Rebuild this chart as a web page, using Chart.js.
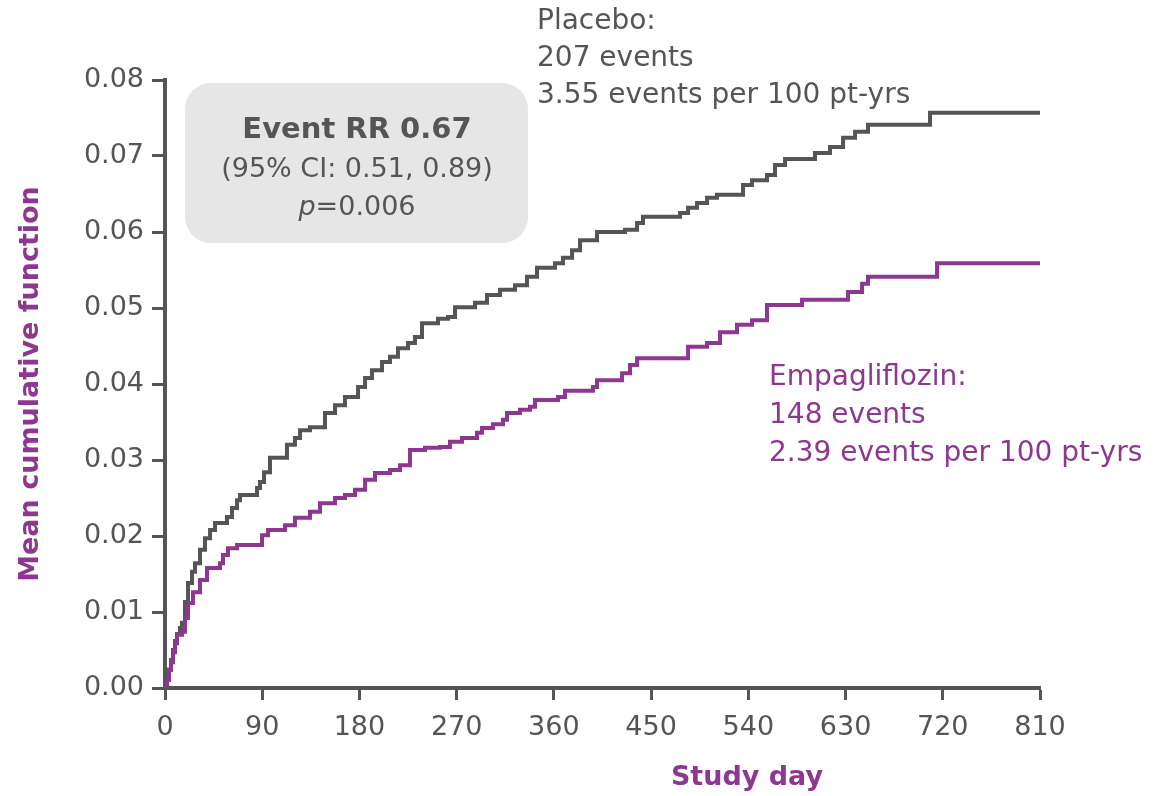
<!DOCTYPE html>
<html>
<head>
<meta charset="utf-8">
<title>Mean cumulative function</title>
<script src="https://cdn.jsdelivr.net/npm/chart.js@4/dist/chart.umd.min.js"></script>
<style>
  html, body { margin: 0; padding: 0; background: #fff; }
  #wrap { width: 1161px; height: 796px; position: relative; }
</style>
</head>
<body>
<div id="wrap"><canvas id="mcfChart" width="1161" height="796"></canvas></div>
<script>
// tick labels
const xTicks = [0, 90, 180, 270, 360, 450, 540, 630, 720, 810];
const yTicks = [0, 0.01, 0.02, 0.03, 0.04, 0.05, 0.06, 0.07, 0.08];

// placebo: study day of each step and the mean cumulative function after it
const placeboDays = [0, 1.9, 3.7, 5.6, 7.4, 9.3, 11.1, 13.9, 15.7, 18.5, 21.3, 25.0, 27.8, 32.4, 37.0,
  41.7, 46.3, 57.4, 62.0, 66.7, 69.4, 85.2, 87.9, 91.7, 97.2, 112.9, 120.3, 125.0, 134.2, 148.1, 157.4,
  166.6, 178.7, 185.2, 191.6, 200.9, 208.3, 215.7, 225.0, 231.4, 237.9, 252.7, 262.0, 268.5, 287.0,
  298.1, 310.1, 324.0, 335.1, 344.4, 361.0, 368.4, 376.8, 384.2, 399.9, 425.8, 437.0, 442.5, 476.8,
  484.2, 492.5, 501.8, 511.0, 535.1, 543.4, 557.3, 564.7, 574.0, 601.7, 615.6, 627.7, 638.8, 650.8,
  708.2, 810];
const placeboMcf = [0, 0.0011, 0.0024, 0.0037, 0.0050, 0.0062, 0.0071, 0.0079, 0.0086, 0.0113, 0.0138,
  0.0153, 0.0164, 0.0182, 0.0197, 0.0208, 0.0217, 0.0225, 0.0237, 0.0247, 0.0254, 0.0263, 0.0271, 0.0284,
  0.0303, 0.0320, 0.0329, 0.0339, 0.0343, 0.0362, 0.0372, 0.0383, 0.0396, 0.0408, 0.0418, 0.0429, 0.0436,
  0.0447, 0.0454, 0.0462, 0.0480, 0.0486, 0.0488, 0.0501, 0.0507, 0.0517, 0.0524, 0.0530, 0.0541, 0.0553,
  0.0559, 0.0566, 0.0576, 0.0589, 0.0600, 0.0603, 0.0612, 0.0620, 0.0625, 0.0632, 0.0638, 0.0645, 0.0649,
  0.0662, 0.0668, 0.0675, 0.0688, 0.0696, 0.0704, 0.0712, 0.0724, 0.0732, 0.0741, 0.0757, 0.0757];

// empagliflozin
const empaDays = [0, 1.9, 3.7, 5.6, 7.4, 9.3, 11.1, 15.7, 18.5, 21.3, 25.9, 32.4, 38.9, 50.9, 53.7, 58.3,
  66.7, 89.8, 95.4, 111.1, 120.3, 134.2, 143.5, 157.4, 166.6, 175.9, 185.2, 194.4, 208.3, 217.6, 226.8,
  240.7, 254.6, 263.8, 274.9, 288.8, 293.5, 303.6, 312.9, 316.6, 328.6, 337.9, 342.5, 363.8, 370.3, 396.2,
  399.9, 423.1, 430.5, 437.0, 484.2, 501.8, 513.8, 529.5, 543.4, 557.3, 589.7, 632.3, 645.3, 650.8, 714.7,
  810];
const empaMcf = [0, 0.0011, 0.0024, 0.0034, 0.0047, 0.0059, 0.0070, 0.0074, 0.0092, 0.0112, 0.0126,
  0.0142, 0.0158, 0.0164, 0.0175, 0.0184, 0.0188, 0.0201, 0.0208, 0.0214, 0.0224, 0.0232, 0.0243, 0.0250,
  0.0254, 0.0261, 0.0274, 0.0283, 0.0287, 0.0293, 0.0313, 0.0316, 0.0317, 0.0324, 0.0329, 0.0336, 0.0342,
  0.0347, 0.0353, 0.0362, 0.0366, 0.0370, 0.0379, 0.0383, 0.0391, 0.0396, 0.0405, 0.0414, 0.0425, 0.0434,
  0.0449, 0.0454, 0.0468, 0.0478, 0.0484, 0.0504, 0.0511, 0.0521, 0.0532, 0.0541, 0.0559, 0.0559];

const GREY = '#555555';
const PURPLE = '#8e3790';
const FONT = '"DejaVu Sans", "Open Sans", sans-serif';

const toPoints = (days, vals) => days.map((d, i) => ({ x: d, y: vals[i] }));

// rounded grey box with the rate ratio, group summaries and axis titles
const annotations = {
  id: 'annotations',
  beforeDatasetsDraw(chart) {
    const ctx = chart.ctx;
    ctx.save();
    ctx.fillStyle = '#e6e6e6';
    ctx.beginPath();
    ctx.roundRect(185, 83, 343, 160, 26);
    ctx.fill();
    ctx.restore();
  },
  afterDraw(chart) {
    const ctx = chart.ctx;
    ctx.save();
    ctx.textBaseline = 'middle';

    // stats box
    ctx.textAlign = 'center';
    ctx.fillStyle = GREY;
    ctx.font = 'bold 29px ' + FONT;
    ctx.fillText('Event RR 0.67', 357, 130);
    ctx.font = '27px ' + FONT;
    ctx.fillText('(95% CI: 0.51, 0.89)', 357, 170);
    ctx.font = 'oblique 27px ' + FONT;
    const pW = ctx.measureText('p').width;
    ctx.font = '27px ' + FONT;
    const restW = ctx.measureText('=0.006').width;
    const startX = 357 - (pW + restW) / 2;
    ctx.textAlign = 'left';
    ctx.font = 'oblique 27px ' + FONT;
    ctx.fillText('p', startX, 208);
    ctx.font = '27px ' + FONT;
    ctx.fillText('=0.006', startX + pW, 208);

    // group summaries
    ctx.font = '28px ' + FONT;
    ctx.fillStyle = GREY;
    ['Placebo:', '207 events', '3.55 events per 100 pt-yrs'].forEach((t, i) => {
      ctx.fillText(t, 537, 22 + i * 37);
    });
    ctx.fillStyle = PURPLE;
    ['Empagliflozin:', '148 events', '2.39 events per 100 pt-yrs'].forEach((t, i) => {
      ctx.fillText(t, 769, 378 + i * 38);
    });

    // axis titles
    ctx.fillStyle = PURPLE;
    ctx.font = 'bold 27px ' + FONT;
    ctx.textAlign = 'center';
    ctx.fillText('Study day', 747, 778);
    ctx.translate(31, (chart.chartArea.top + chart.chartArea.bottom) / 2);
    ctx.rotate(-Math.PI / 2);
    ctx.fillText('Mean cumulative function', 0, 0);
    ctx.restore();
  }
};

new Chart(document.getElementById('mcfChart'), {
  type: 'line',
  data: {
    datasets: [
      {
        label: 'Empagliflozin',
        data: toPoints(empaDays, empaMcf),
        borderColor: PURPLE,
        borderWidth: 4,
        stepped: 'before',
        pointRadius: 0,
        order: 0
      },
      {
        label: 'Placebo',
        data: toPoints(placeboDays, placeboMcf),
        borderColor: GREY,
        borderWidth: 4,
        stepped: 'before',
        pointRadius: 0,
        order: 1
      }
    ]
  },
  options: {
    responsive: false,
    animation: false,
    layout: { padding: { top: 80, right: 121, left: 0, bottom: 0 } },
    plugins: {
      legend: { display: false },
      tooltip: { enabled: false }
    },
    scales: {
      x: {
        type: 'linear',
        min: 0,
        max: 810,
        afterFit: s => { s.height = 108; },
        afterBuildTicks: s => { s.ticks = xTicks.map(v => ({ value: v })); },
        border: { display: true, color: GREY, width: 4 },
        grid: { display: true, drawOnChartArea: false, drawTicks: true, tickLength: 12, tickColor: GREY, tickWidth: 3 },
        ticks: { color: GREY, padding: 12, font: { family: FONT, size: 27 }, maxRotation: 0 }
      },
      y: {
        min: 0,
        max: 0.08,
        afterFit: s => { s.width = 165; },
        afterBuildTicks: s => { s.ticks = yTicks.map(v => ({ value: v })); },
        border: { display: true, color: GREY, width: 4 },
        grid: { display: true, drawOnChartArea: false, drawTicks: true, tickLength: 13, tickColor: GREY, tickWidth: 3 },
        ticks: { color: GREY, padding: 8, font: { family: FONT, size: 27 }, callback: v => v.toFixed(2) }
      }
    }
  },
  plugins: [annotations]
});
</script>
</body>
</html>
